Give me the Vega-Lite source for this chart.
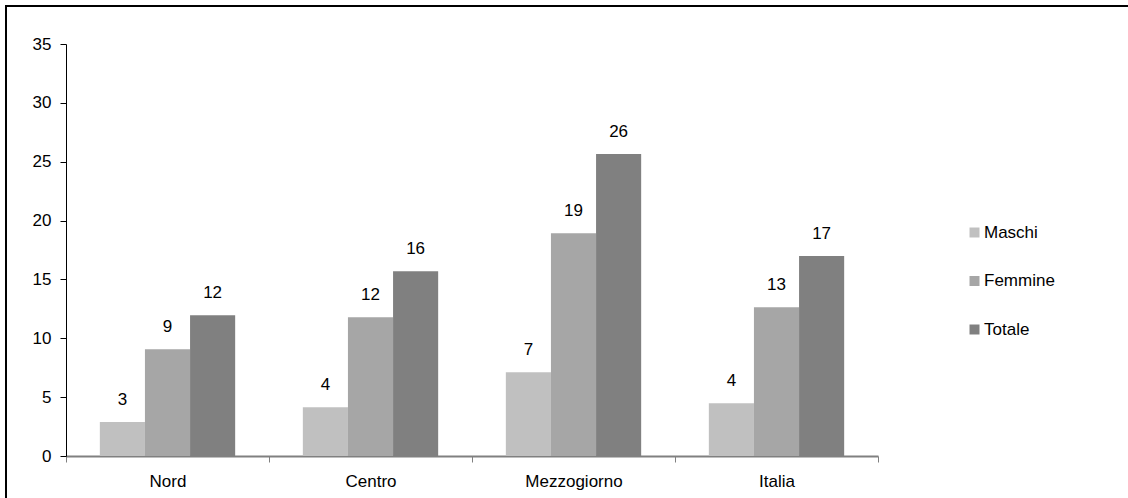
{
  "$schema": "https://vega.github.io/schema/vega-lite/v6.json",
  "autosize": {"type": "none"},
  "padding": {"left": 6, "top": 6, "right": -4, "bottom": -4},
  "width": 1126,
  "height": 496,
  "background": "white",
  "config": {
    "view": {"stroke": "black", "strokeWidth": 2},
    "font": "Liberation Sans",
    "axis": {"labelFont": "Liberation Sans", "labelColor": "black", "labelFontSize": 17, "grid": false, "title": null}
  },
  "data": {
    "values": [
      {"area": "Nord", "serie": "Maschi", "valore": 2.89},
      {"area": "Nord", "serie": "Femmine", "valore": 9.06},
      {"area": "Nord", "serie": "Totale", "valore": 11.95},
      {"area": "Centro", "serie": "Maschi", "valore": 4.14},
      {"area": "Centro", "serie": "Femmine", "valore": 11.78},
      {"area": "Centro", "serie": "Totale", "valore": 15.7},
      {"area": "Mezzogiorno", "serie": "Maschi", "valore": 7.11},
      {"area": "Mezzogiorno", "serie": "Femmine", "valore": 18.92},
      {"area": "Mezzogiorno", "serie": "Totale", "valore": 25.66},
      {"area": "Italia", "serie": "Maschi", "valore": 4.48},
      {"area": "Italia", "serie": "Femmine", "valore": 12.63},
      {"area": "Italia", "serie": "Totale", "valore": 17.0}
    ]
  },
  "encoding": {
    "x": {
      "field": "area", "type": "nominal",
      "sort": ["Nord", "Centro", "Mezzogiorno", "Italia"],
      "scale": {"range": [60, 872], "paddingInner": 0, "paddingOuter": 0},
      "axis": {
        "orient": "bottom", "offset": -46, "labelAngle": 0,
        "domainColor": "#808080", "domainWidth": 2,
        "tickColor": "#808080", "tickWidth": 1, "tickSize": 6, "tickBand": "extent",
        "labelPadding": 11
      }
    },
    "xOffset": {
      "field": "serie", "type": "nominal",
      "sort": ["Maschi", "Femmine", "Totale"],
      "scale": {"paddingInner": 0, "paddingOuter": 0.75}
    },
    "y": {
      "field": "valore", "type": "quantitative",
      "scale": {"domain": [0, 35], "range": [450, 38], "nice": false},
      "axis": {
        "orient": "left", "offset": -60,
        "values": [0, 5, 10, 15, 20, 25, 30, 35],
        "domainColor": "black", "domainWidth": 1,
        "tickColor": "black", "tickSize": 6,
        "labelPadding": 9
      }
    }
  },
  "layer": [
    {
      "mark": {"type": "bar"},
      "encoding": {
        "color": {
          "field": "serie", "type": "nominal",
          "sort": ["Maschi", "Femmine", "Totale"],
          "scale": {"domain": ["Maschi", "Femmine", "Totale"], "range": ["#C0C0C0", "#A6A6A6", "#808080"]},
          "legend": {
            "title": null, "orient": "none", "legendX": 960, "legendY": 218,
            "symbolType": "square", "symbolSize": 100, "symbolStrokeWidth": 0,
            "labelFontSize": 17, "labelColor": "black", "labelFont": "Liberation Sans",
            "labelOffset": 1, "rowPadding": 30.5, "padding": 0
          }
        }
      }
    },
    {
      "mark": {"type": "text", "baseline": "middle", "dy": -22, "fontSize": 17, "color": "black"},
      "encoding": {"text": {"field": "valore", "type": "quantitative", "format": ".0f"}}
    }
  ]
}
